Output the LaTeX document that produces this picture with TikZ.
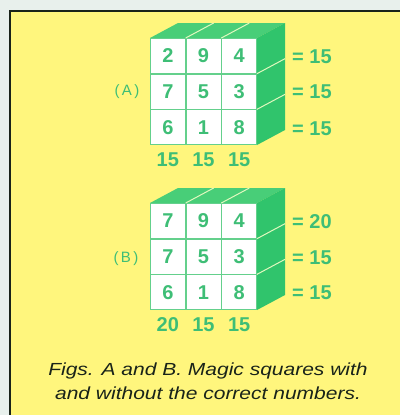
\documentclass[tikz,border=0pt]{standalone}
\usepackage{fontspec}
\setmainfont{Liberation Sans}
\newfontfamily\capfont[FakeStretch=1.2]{Liberation Sans}
\definecolor{bgout}{RGB}{232,240,236}
\definecolor{paper}{RGB}{255,246,125}
\definecolor{txtg}{RGB}{62,190,118}
\definecolor{gridg}{RGB}{100,208,140}
\definecolor{topg}{RGB}{72,206,120}
\definecolor{sideg}{RGB}{48,196,108}
\definecolor{divl}{RGB}{225,248,190}
\definecolor{frame}{RGB}{25,35,25}
\begin{document}
\begin{tikzpicture}[x=1pt,y=-1pt,
  cell/.style={minimum size=34pt, fill=white, inner sep=0pt, text=txtg, font=\fontsize{20}{20}\selectfont\bfseries},
  sumlbl/.style={text=txtg, inner sep=0pt, font=\fontsize{20}{20}\selectfont\bfseries},
  tag/.style={text=txtg, inner sep=0pt, font=\fontsize{15}{15}\selectfont},
  topface/.style={fill=topg},
  sideface/.style={fill=sideg},
  divider/.style={draw=divl, line width=1pt},
  caption/.style={align=center, inner sep=0pt, text=frame, font=\capfont\fontsize{17.5}{24}\selectfont\itshape}]
\useasboundingbox (0,0) rectangle (400,415);
\fill[bgout] (0,0) rectangle (400,415);
\fill[paper] (10,11) rectangle (400,415);
\draw[line width=2.2pt, frame] (10,415) -- (10,11) -- (400,11);
% cube A
\begin{scope}
  \fill[topface] (150,38) -- (178,23) -- (285,23) -- (257,38) -- cycle;
  \fill[sideface] (257,38) -- (285,23) -- (285,130) -- (257,145) -- cycle;
  \fill[gridg] (150,38) rectangle (257,145);
  \draw[divider] (185.67,38) -- ++(28,-15);
  \draw[divider] (221.33,38) -- ++(28,-15);
  \draw[divider] (257,73.67) -- ++(28,-15);
  \draw[divider] (257,109.33) -- ++(28,-15);
  \foreach \d [count=\i from 0] in {2,9,4,7,5,3,6,1,8}{
    \pgfmathtruncatemacro{\r}{int(\i/3)}
    \pgfmathtruncatemacro{\c}{mod(\i,3)}
    \node[cell] (A-\r-\c) at ({167.83+35.67*\c},{55.83+35.67*\r}) {\d};
  }
  \node[sumlbl, anchor=west] (A-s0) at (292,57) {= 15};
  \node[sumlbl, anchor=west] (A-s1) at (292,92) {= 15};
  \node[sumlbl, anchor=west] (A-s2) at (292,129) {= 15};
  \node[sumlbl] (A-c0) at (167.83,160) {15};
  \node[sumlbl] (A-c1) at (203.5,160) {15};
  \node[sumlbl] (A-c2) at (239.17,160) {15};
  \node[tag] (A-tag) at (127,92) {(\,A\,)};
\end{scope}
% cube B
\begin{scope}[shift={(0,165)}]
  \fill[topface] (150,38) -- (178,23) -- (285,23) -- (257,38) -- cycle;
  \fill[sideface] (257,38) -- (285,23) -- (285,130) -- (257,145) -- cycle;
  \fill[gridg] (150,38) rectangle (257,145);
  \draw[divider] (185.67,38) -- ++(28,-15);
  \draw[divider] (221.33,38) -- ++(28,-15);
  \draw[divider] (257,73.67) -- ++(28,-15);
  \draw[divider] (257,109.33) -- ++(28,-15);
  \foreach \d [count=\i from 0] in {7,9,4,7,5,3,6,1,8}{
    \pgfmathtruncatemacro{\r}{int(\i/3)}
    \pgfmathtruncatemacro{\c}{mod(\i,3)}
    \node[cell] (B-\r-\c) at ({167.83+35.67*\c},{55.83+35.67*\r}) {\d};
  }
  \node[sumlbl, anchor=west] (B-s0) at (292,57) {= 20};
  \node[sumlbl, anchor=west] (B-s1) at (292,93) {= 15};
  \node[sumlbl, anchor=west] (B-s2) at (292,128) {= 15};
  \node[sumlbl] (B-c0) at (167.83,160) {20};
  \node[sumlbl] (B-c1) at (203.5,160) {15};
  \node[sumlbl] (B-c2) at (239.17,160) {15};
  \node[tag] (B-tag) at (126,94) {(\,B\,)};
\end{scope}
\node[caption] (cap) at (208,381) {Figs. A and B. Magic squares with\\and without the correct numbers.};
\end{tikzpicture}
\end{document}
